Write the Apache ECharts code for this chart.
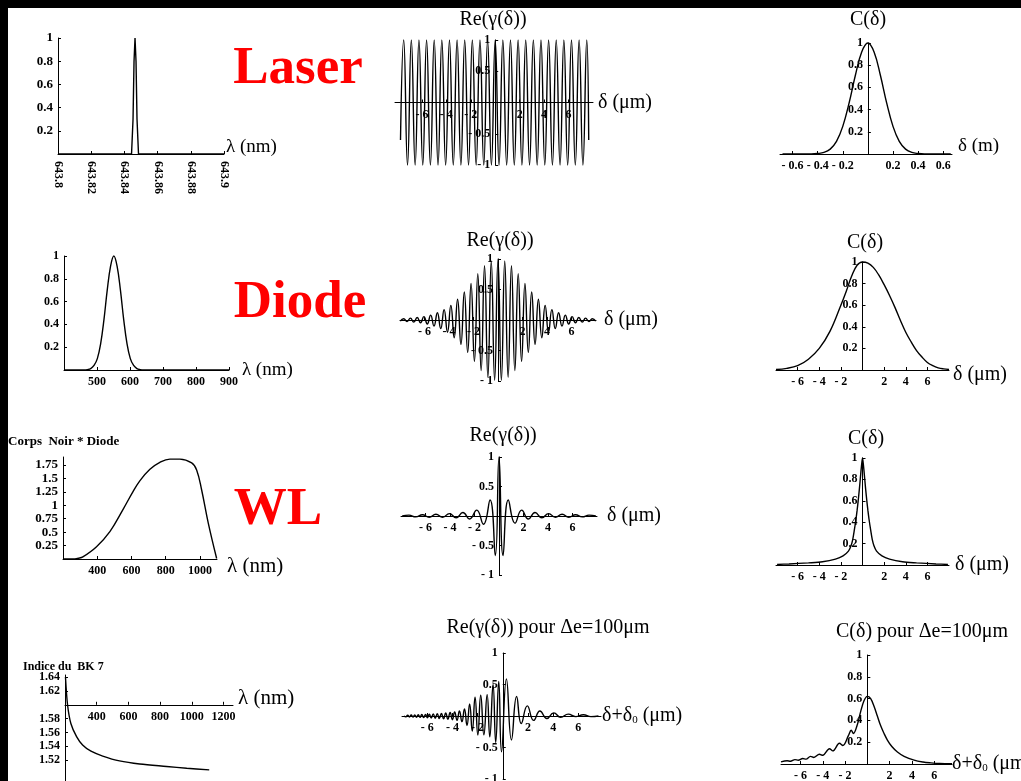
<!DOCTYPE html>
<html><head><meta charset="utf-8">
<script src="https://cdn.jsdelivr.net/npm/echarts@6.0.0/dist/echarts.min.js"></script>
<style>
html,body{margin:0;padding:0;background:#000;overflow:hidden;}
#c{width:1021px;height:781px;background:linear-gradient(#fff,#fff) no-repeat 8px 8px/1013px 773px,#000;}
</style></head><body><div id="c"></div>
<script>
// ---------- tick values ----------
const ticksLaserNm = [643.8, 643.82, 643.84, 643.86, 643.88, 643.9];
const ticksUnit = [0.2, 0.4, 0.6, 0.8, 1];
const ticksSym = [-1, -0.5, 0.5, 1];
const ticksDelta = [-6, -4, -2, 2, 4, 6];
const ticksDeltaM = [-0.6, -0.4, -0.2, 0.2, 0.4, 0.6];
const ticksDiodeNm = [500, 600, 700, 800, 900];
const ticksWLnm = [400, 600, 800, 1000];
const ticksWLy = [0.25, 0.5, 0.75, 1, 1.25, 1.5, 1.75];
const ticksBK7nm = [400, 600, 800, 1000, 1200];
const ticksBK7n = [1.52, 1.54, 1.56, 1.58, 1.62, 1.64];
const bk7AxisOrigin = 1.6;

// ---------- data ----------
const laserSpectrum = [[643.8,0],[643.8443,0],[643.8452,0.3],[643.8458,0.8],[643.8464,1],[643.847,0.8],[643.8476,0.3],[643.8485,0],[643.9,0]];
const laserRe = [[-7.75,-0.6],[-7.488,1],[-7.176,-1],[-6.864,1],[-6.552,-1],[-6.24,1],[-5.928,-1],[-5.616,1],[-5.304,-1],[-4.992,1],[-4.68,-1],[-4.368,1],[-4.056,-1],[-3.744,1],[-3.432,-1],[-3.12,1],[-2.808,-1],[-2.496,1],[-2.184,-1],[-1.872,1],[-1.56,-1],[-1.248,1],[-0.936,-1],[-0.624,1],[-0.312,-1],[0,1],[0.312,-1],[0.624,1],[0.936,-1],[1.248,1],[1.56,-1],[1.872,1],[2.184,-1],[2.496,1],[2.808,-1],[3.12,1],[3.432,-1],[3.744,1],[4.056,-1],[4.368,1],[4.68,-1],[4.992,1],[5.304,-1],[5.616,1],[5.928,-1],[6.24,1],[6.552,-1],[6.864,1],[7.176,-1],[7.488,1],[7.65,-0.6]];
const laserC = [[-0.68,0],[-0.45,0],[-0.4,0.004],[-0.35,0.014],[-0.3,0.044],[-0.25,0.114],[-0.2,0.249],[-0.15,0.458],[-0.1,0.707],[-0.05,0.917],[0,1],[0.05,0.917],[0.1,0.707],[0.15,0.458],[0.2,0.249],[0.25,0.114],[0.3,0.044],[0.35,0.014],[0.4,0.004],[0.45,0],[0.66,0]];

const diodeSpectrum = [[400,0],[461,0],[471,0.003],[481,0.012],[491,0.04],[501,0.1],[511,0.23],[521,0.44],[531,0.7],[541,0.91],[551,1],[561,0.91],[571,0.7],[581,0.44],[591,0.23],[601,0.1],[611,0.04],[621,0.012],[631,0.003],[641,0],[900,0]];
const diodeRe = [[-7.975,-0.02],[-7.7,0.02],[-7.425,-0.025],[-7.15,0.03],[-6.875,-0.035],[-6.6,0.04],[-6.325,-0.045],[-6.05,0.055],[-5.775,-0.065],[-5.5,0.08],[-5.225,-0.1],[-4.95,0.12],[-4.675,-0.14],[-4.4,0.17],[-4.125,-0.2],[-3.85,0.24],[-3.575,-0.29],[-3.3,0.34],[-3.025,-0.4],[-2.75,0.46],[-2.475,-0.53],[-2.2,0.6],[-1.925,-0.68],[-1.65,0.76],[-1.375,-0.83],[-1.1,0.89],[-0.825,-0.94],[-0.55,0.97],[-0.275,-0.99],[0,1],[0.275,-0.99],[0.55,0.97],[0.825,-0.94],[1.1,0.89],[1.375,-0.83],[1.65,0.76],[1.925,-0.68],[2.2,0.6],[2.475,-0.53],[2.75,0.46],[3.025,-0.4],[3.3,0.34],[3.575,-0.29],[3.85,0.24],[4.125,-0.2],[4.4,0.17],[4.675,-0.14],[4.95,0.12],[5.225,-0.1],[5.5,0.08],[5.775,-0.065],[6.05,0.055],[6.325,-0.045],[6.6,0.04],[6.875,-0.035],[7.15,0.03],[7.425,-0.025],[7.7,0.02],[7.975,-0.02]];
const diodeC = [[-8,0.005],[-7,0.015],[-6,0.04],[-5,0.1],[-4,0.2],[-3,0.36],[-2,0.6],[-1.5,0.73],[-1,0.87],[-0.5,0.97],[0,1],[0.5,0.99],[1,0.95],[1.5,0.88],[2,0.79],[2.5,0.69],[3,0.58],[3.5,0.46],[4,0.35],[4.5,0.26],[5,0.18],[5.5,0.12],[6,0.07],[6.5,0.04],[7,0.02],[7.5,0.01],[8,0.005]];

const wlSpectrum = [[200,0],[258,0],[290,0.015],[316,0.04],[396,0.23],[474,0.51],[552,0.93],[610,1.26],[650,1.46],[708,1.67],[766,1.8],[825,1.86],[883,1.86],[952,1.79],[981,1.66],[1010,1.29],[1049,0.67],[1098,0.01]];
const wlRe = [[-7.9,0],[-7.35,0.015],[-6.8,-0.015],[-6.25,0.02],[-5.7,-0.02],[-5.15,0.03],[-4.6,-0.02],[-4.05,0.04],[-3.5,-0.03],[-2.95,0.06],[-2.4,-0.05],[-1.82,0.1],[-1.27,-0.14],[-0.73,0.27],[-0.3,-0.67],[0,1],[0.33,-0.67],[0.76,0.27],[1.31,-0.12],[1.85,0.1],[2.4,-0.05],[2.94,0.06],[3.5,-0.03],[4.05,0.04],[4.6,-0.02],[5.15,0.03],[5.7,-0.02],[6.25,0.02],[6.8,-0.015],[7.35,0.015],[7.9,0]];
const wlC = [[-7.9,0.005],[-6.8,0.01],[-5,0.02],[-3.7,0.03],[-2.5,0.055],[-1.8,0.085],[-1.3,0.13],[-1.06,0.18],[-0.9,0.24],[-0.75,0.33],[-0.6,0.43],[-0.5,0.51],[-0.4,0.6],[-0.3,0.7],[-0.2,0.81],[-0.1,0.92],[0,1],[0.1,0.92],[0.2,0.81],[0.3,0.7],[0.4,0.6],[0.5,0.51],[0.6,0.43],[0.75,0.33],[0.9,0.24],[1.06,0.18],[1.3,0.13],[1.8,0.085],[2.5,0.055],[3.7,0.03],[5,0.02],[6.8,0.01],[7.9,0.005]];

const bk7Index = [[203,1.64],[216,1.6],[237,1.573],[273,1.554],[311,1.542],[364,1.533],[438,1.526],[544,1.519],[671,1.5145],[841,1.511],[968,1.5085],[1110,1.506]];
const dispRe = [[-7.85,0],[-7.69,-0.013],[-7.55,0.014],[-7.41,-0.015],[-7.27,0.016],[-7.13,-0.017],[-6.99,0.018],[-6.85,-0.019],[-6.71,0.02],[-6.57,-0.022],[-6.43,0.023],[-6.28,-0.025],[-6.13,0.026],[-5.98,-0.028],[-5.83,0.03],[-5.68,-0.031],[-5.52,0.033],[-5.36,-0.035],[-5.2,0.038],[-5.04,-0.04],[-4.87,0.042],[-4.7,-0.045],[-4.53,0.048],[-4.36,-0.05],[-4.18,0.055],[-4.0,-0.06],[-3.82,0.065],[-3.63,-0.07],[-3.44,0.08],[-3.24,-0.09],[-3.04,0.11],[-2.84,-0.15],[-2.63,0.19],[-2.42,-0.24],[-2.2,0.3],[-1.98,-0.3],[-1.75,0.33],[-1.5,-0.3],[-1.24,0.34],[-1.03,-0.33],[-0.77,0.5],[-0.56,-0.42],[-0.32,0.55],[-0.1,-0.57],[0.29,0.59],[0.69,-0.38],[1.1,0.31],[1.47,-0.12],[1.95,0.16],[2.45,-0.07],[2.95,0.08],[3.5,-0.04],[4.05,0.05],[4.6,-0.02],[5.2,0.03],[5.8,-0.01],[6.4,0.02],[7.0,-0.01],[7.6,0]];
const dispC = [[-7.75,0.02],[-7.2,0.03],[-6.9,0.025],[-6.5,0.04],[-6.2,0.035],[-5.8,0.05],[-5.5,0.045],[-5.1,0.07],[-4.8,0.06],[-4.3,0.09],[-4.0,0.08],[-3.4,0.14],[-3.1,0.12],[-2.5,0.19],[-2.2,0.17],[-1.7,0.26],[-1.45,0.31],[-1.25,0.28],[-0.9,0.36],[-0.6,0.48],[-0.3,0.58],[0,0.62],[0.3,0.6],[0.6,0.53],[0.9,0.44],[1.2,0.35],[1.5,0.28],[1.8,0.22],[2.2,0.16],[2.7,0.11],[3.3,0.07],[4.2,0.035],[5,0.018],[5.7,0.01],[6.5,0.004],[7.6,0.002]];

// ---------- layout ----------
const F = '"Liberation Serif", "Times New Roman", serif';
function fmt(v) { const r = Math.round(v * 10000) / 10000; return r < 0 ? '- ' + String(-r) : String(r); }
const sub = {a:{fontFamily:F, fontSize:20, color:'#000'}, s:{fontFamily:F, fontSize:11, color:'#000', verticalAlign:'bottom', padding:[0,0,0,0]}};
const deltaName = 'δ (μm)';
const deltaSumName = '{a|δ+δ}{s|0}{a| (μm)}';

// nv: vertical alignment of the axis name, nlh: its line height (shifts the name off the axis line)
const panels = [
  {grid:{left:58,top:38,width:166,height:116}, x:[643.8,643.9], xt:ticksLaserNm, y:[0,1], yt:ticksUnit, data:laserSpectrum, name:'λ (nm)', ns:19, gap:2, nv:'bottom', nlh:14, rotate:-90, xm:7, yfs:13, smooth:false},
  {grid:{left:395,top:40,width:198,height:125}, x:[-8.2,8], xt:ticksDelta, y:[-1,1], yt:ticksSym, data:laserRe, name:deltaName, ns:20, gap:5, smooth:0.5},
  {grid:{left:780,top:43,width:172,height:111}, x:[-0.7,0.67], xt:ticksDeltaM, y:[0,1], yt:ticksUnit, data:laserC, name:'δ (m)', ns:19, gap:6, nv:'bottom', nlh:16, smooth:0.4},
  {grid:{left:64,top:256,width:165,height:114}, x:[400,900], xt:ticksDiodeNm, y:[0,1], yt:ticksUnit, data:diodeSpectrum, name:'λ (nm)', ns:19, gap:9, smooth:0.4},
  {grid:{left:400,top:259,width:196,height:122}, x:[-8,8], xt:ticksDelta, y:[-1,1], yt:ticksSym, data:diodeRe, name:deltaName, ns:20, gap:8, smooth:0.5},
  {grid:{left:776,top:262,width:173,height:108}, x:[-8,8], xt:ticksDelta, y:[0,1], yt:ticksUnit, data:diodeC, name:deltaName, ns:20, gap:4, nv:'top', nlh:10, smooth:0.4},
  {grid:{left:63,top:457,width:154,height:102}, x:[200,1100], xt:ticksWLnm, y:[0,1.9], yt:ticksWLy, data:wlSpectrum, name:'λ (nm)', ns:21, gap:10, nv:'top', nlh:15, yfs:13, smooth:0.4},
  {grid:{left:401,top:457,width:196,height:118}, x:[-8,8], xt:ticksDelta, y:[-1,1], yt:ticksSym, data:wlRe, name:deltaName, ns:20, gap:10, smooth:0.5},
  {grid:{left:776,top:458,width:173,height:107}, x:[-8,8], xt:ticksDelta, y:[0,1], yt:ticksUnit, data:wlC, name:deltaName, ns:20, gap:6, smooth:0.3},
  {grid:{left:65,top:675,width:168,height:106}, x:[200,1260], xt:ticksBK7nm, y:[-0.11,0.043], yt:ticksBK7n.map(n => n - bk7AxisOrigin), yfmt:v => (bk7AxisOrigin + v).toFixed(2),
     data:bk7Index.map(p => [p[0], p[1] - bk7AxisOrigin]), name:'λ (nm)', ns:21, gap:5, nv:'bottom', nlh:12, smooth:0.3},
  {grid:{left:402,top:653,width:199,height:126}, x:[-8,7.8], xt:ticksDelta, y:[-1,1], yt:ticksSym, data:dispRe, name:deltaSumName, ns:20, gap:1, rich:true, smooth:0.5},
  {grid:{left:781,top:655,width:171,height:109}, x:[-7.75,7.6], xt:ticksDelta, y:[0,1], yt:ticksUnit, data:dispC, name:deltaSumName, ns:20, gap:0, rich:true, smooth:0.35}
];

// distance (px) from the grid's bottom / left edge to the value 0 of the other axis
function zeroShift(range, size) { return (range[0] < 0 && range[1] > 0) ? size * (0 - range[0]) / (range[1] - range[0]) : 0; }

const lab = {fontFamily:F, fontWeight:'bold', fontSize:12, color:'#000', hideOverlap:false};
const option = {animation:false, backgroundColor:'transparent', grid:[], xAxis:[], yAxis:[], series:[], graphic:[]};
panels.forEach((p, i) => {
  option.grid.push(Object.assign({outerBoundsMode:'none', containLabel:false}, p.grid));
  const nts = p.rich ? {rich:sub, verticalAlign:'middle'} :
    Object.assign({fontFamily:F, fontSize:p.ns, color:'#000', verticalAlign:p.nv || 'middle'}, p.nlh ? {lineHeight:p.nlh} : {});
  option.xAxis.push({type:'value', gridIndex:i, min:p.x[0], max:p.x[1], splitLine:{show:false}, position:'bottom',
    offset:-zeroShift(p.y, p.grid.height),
    axisLine:{onZero:false, lineStyle:{color:'#000', width:1}},
    axisTick:{show:true, customValues:p.xt, length:3, inside:true, lineStyle:{color:'#000'}},
    axisLabel:Object.assign({}, lab, {customValues:p.xt, formatter:fmt, rotate:p.rotate || 0, margin:p.xm || 6}),
    name:p.name, nameLocation:'end', nameGap:p.gap, nameTextStyle:nts});
  option.yAxis.push({type:'value', gridIndex:i, min:p.y[0], max:p.y[1], splitLine:{show:false}, position:'left',
    offset:-zeroShift(p.x, p.grid.width),
    axisLine:{onZero:false, lineStyle:{color:'#000', width:1}},
    axisTick:{show:true, customValues:p.yt, length:3, inside:true, lineStyle:{color:'#000'}},
    axisLabel:Object.assign({}, lab, {customValues:p.yt, formatter:p.yfmt || fmt, margin:5, fontSize:p.yfs || 12})});
  option.series.push({type:'line', xAxisIndex:i, yAxisIndex:i, data:p.data, showSymbol:false, smooth:p.smooth,
    lineStyle:{color:'#000', width:1.4}, clip:false, silent:true, z:5});
});

const titles = [
  ['Re(γ(δ))', 493, 20], ['C(δ)', 868, 20],
  ['Re(γ(δ))', 500, 241], ['C(δ)', 865, 243],
  ['Re(γ(δ))', 503, 436], ['C(δ)', 866, 439],
  ['Re(γ(δ)) pour Δe=100μm', 548, 628], ['C(δ) pour Δe=100μm', 922, 632]
];
titles.forEach(t => option.graphic.push({type:'text', x:t[1], y:t[2], silent:true,
  style:{text:t[0], font:'20px ' + F, fill:'#000', align:'center', verticalAlign:'middle'}}));
const bigLabels = [['Laser', 298, 69], ['Diode', 300, 303], ['WL', 278, 510]];
bigLabels.forEach(t => option.graphic.push({type:'text', x:t[1], y:t[2], silent:true,
  style:{text:t[0], font:'bold 53px ' + F, fill:'#ff0000', align:'center', verticalAlign:'middle'}}));
const smallTitles = [['Corps  Noir * Diode', 8, 442, 13], ['Indice du  BK 7', 23, 667, 12]];
smallTitles.forEach(t => option.graphic.push({type:'text', x:t[1], y:t[2], silent:true,
  style:{text:t[0], font:'bold ' + t[3] + 'px ' + F, fill:'#000', align:'left', verticalAlign:'middle'}}));

const chart = echarts.init(document.getElementById('c'), null, {renderer:'canvas'});
chart.setOption(option);
</script></body></html>
